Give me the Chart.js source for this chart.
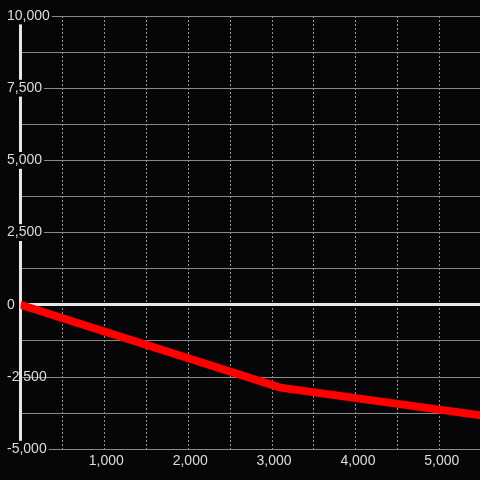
<!DOCTYPE html>
<html>
<head>
<meta charset="utf-8">
<style>
  html, body { margin: 0; padding: 0; background: #060609; }
  canvas { display: block; }
</style>
<script src="https://cdn.jsdelivr.net/npm/chart.js@4/dist/chart.umd.min.js"></script>
</head>
<body>
<canvas id="myChart" width="480" height="480"></canvas>
<script>
// series
const xValues = [0, 3100, 5500];
const yValues = [0, -2870, -3830];

// axes
const xRange = [0, 5480];
const yRange = [-5000, 10000];
const xGridStep = 500;
const xLabelStep = 1000;
const yGridStep = 1250;
const yLabelStep = 2500;

const bg = "#060609";
const fmt = (v) => v.toLocaleString("en-US");

document.addEventListener("DOMContentLoaded", function () {
  const ctx = document.getElementById("myChart").getContext("2d");
  Chart.defaults.font.family = "'Liberation Sans', Arial, sans-serif";
  Chart.defaults.font.size = 14;

  const points = xValues.map((x, i) => ({ x: x, y: yValues[i] }));

  const config = {
    type: "line",
    data: {
      datasets: [
        {
          data: points,
          borderColor: "#ff0000",
          borderWidth: 8,
          pointRadius: 0,
          fill: false,
          tension: 0,
        },
      ],
    },
    options: {
      responsive: false,
      animation: false,
      layout: { autoPadding: false, padding: { left: 20.5, top: 16, right: 0, bottom: 6 } },
      plugins: {
        legend: { display: false },
        tooltip: { enabled: false },
      },
      scales: {
        x: {
          type: "linear",
          min: xRange[0],
          max: xRange[1],
          // grid every 500, labels every 1000
          afterBuildTicks: (s) => {
            const t = [];
            for (let v = xRange[0]; v <= xRange[1]; v += xGridStep) t.push({ value: v });
            s.ticks = t;
          },
          grid: { color: "#959595", lineWidth: 1, drawTicks: false },
          border: { display: false, dash: [2, 2] },
          ticks: {
            color: "#dcdcdc",
            padding: 4,
            labelOffset: 2,
            maxRotation: 0,
            autoSkip: false,
            callback: (v) => (v !== 0 && v % xLabelStep === 0 ? fmt(v) : ""),
          },
        },
        y: {
          min: yRange[0],
          max: yRange[1],
          afterFit: (s) => {
            s.width = 0;
          },
          grid: {
            drawTicks: false,
            color: (c) => (c.tick && c.tick.value === 0 ? "#e6e6e6" : "#8a8a8a"),
            lineWidth: (c) => (c.tick && c.tick.value === 0 ? 3 : 1),
          },
          border: { display: true, color: "#e6e6e6", width: 3 },
          ticks: {
            stepSize: yGridStep,
            maxTicksLimit: 30,
            mirror: true,
            padding: -13.5,
            color: "#dcdcdc",
            autoSkip: false,
            showLabelBackdrop: (c) => c.tick && c.tick.value % yLabelStep === 0 && c.tick.value !== -2500,
            backdropColor: bg,
            backdropPadding: { top: 0, bottom: 0, left: 2, right: 2 },
            callback: (v) => (v % yLabelStep === 0 ? fmt(v) : ""),
          },
        },
      },
    },
  };

  new Chart(ctx, config);
});
</script>
</body>
</html>
